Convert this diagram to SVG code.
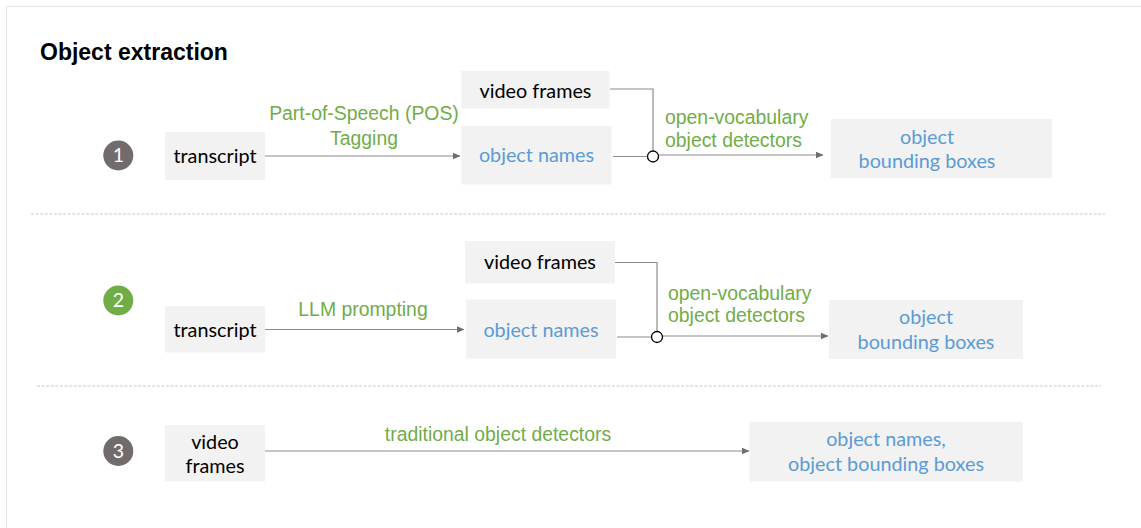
<svg xmlns="http://www.w3.org/2000/svg" width="1141" height="528" viewBox="0 0 1141 528">
<style>
  .frame{fill:none;stroke:#e6e6e6;stroke-width:1}
  .sep{fill:none;stroke:#dcdcdc;stroke-width:1.5;stroke-dasharray:3 1.6}
  .box{fill:#f2f2f2}
  .tb{font-family:Lato,"Open Sans",sans-serif;font-size:19.8px;fill:#000;text-anchor:middle}
  .tbl{font-family:Lato,"Open Sans",sans-serif;font-size:19.8px;fill:#5b9bd5;text-anchor:middle}
  .lab{font-family:"Liberation Sans",Arial,sans-serif;font-size:19.4px;fill:#70ad47}
  .num{font-family:Lato,"Open Sans",sans-serif;font-size:19.5px;fill:#fff;text-anchor:middle}
  .con{fill:none;stroke:#8c8c8c;stroke-width:1.2}
  .jn{fill:#fff;stroke:#000;stroke-width:1.3}
</style>
<defs>
  <marker id="ah" markerWidth="8" markerHeight="7" refX="7.5" refY="3.5" orient="auto" markerUnits="userSpaceOnUse">
    <path d="M0,0 L8,3.5 L0,7 Z" fill="#6e6e6e"/>
  </marker>
</defs>
<rect width="1141" height="528" fill="#fff"/>
<path class="frame" d="M6.5,528 V6.5 H1141"/>
<line class="sep" x1="31" y1="214" x2="1105" y2="214"/>
<line class="sep" x1="37" y1="386" x2="1101" y2="386"/>
<text x="40" y="60" font-family="'Liberation Sans',Arial,sans-serif" font-size="23" font-weight="bold" fill="#000">Object extraction</text>

<g id="connectors">
  <line class="con" x1="265" y1="156" x2="460" y2="156" marker-end="url(#ah)"/>
  <polyline class="con" points="610,89 653,89 653,150.5"/>
  <line class="con" x1="613" y1="156.5" x2="647.5" y2="156.5"/>
  <line class="con" x1="659" y1="155" x2="823" y2="155" marker-end="url(#ah)"/>
  <circle class="jn" cx="653" cy="156.5" r="5.5"/>

  <line class="con" x1="265" y1="329.5" x2="464" y2="329.5" marker-end="url(#ah)"/>
  <polyline class="con" points="613,262.5 657,262.5 657,331"/>
  <line class="con" x1="617" y1="337" x2="651.5" y2="337"/>
  <line class="con" x1="662.5" y1="336" x2="828" y2="336" marker-end="url(#ah)"/>
  <circle class="jn" cx="657" cy="337" r="5.5"/>

  <line class="con" x1="265" y1="451" x2="749" y2="451" marker-end="url(#ah)"/>
</g>

<g id="labels">
  <text class="lab" x="364" y="120" text-anchor="middle">Part-of-Speech (POS)</text>
  <text class="lab" x="364" y="144.5" text-anchor="middle">Tagging</text>
  <text class="lab" x="665" y="124">open-vocabulary</text>
  <text class="lab" x="665" y="146.5">object detectors</text>
  <text class="lab" x="363" y="316" text-anchor="middle">LLM prompting</text>
  <text class="lab" x="668" y="299.5">open-vocabulary</text>
  <text class="lab" x="668" y="322">object detectors</text>
  <text class="lab" x="498" y="441" text-anchor="middle">traditional object detectors</text>
</g>

<g id="n1"><circle cx="118.3" cy="155.5" r="15" fill="#716b6b"/><text class="num" x="118.3" y="162">1</text></g>
<g id="n2"><circle cx="118.3" cy="300.5" r="15" fill="#70ad47"/><text class="num" x="118.3" y="307">2</text></g>
<g id="n3"><circle cx="118.3" cy="451" r="15" fill="#716b6b"/><text class="num" x="118.3" y="457.5">3</text></g>

<g id="r1-transcript"><rect class="box" x="165" y="132" width="100" height="48"/><text class="tb" x="215" y="162.5">transcript</text></g>
<g id="r1-video"><rect class="box" x="461.5" y="71" width="148" height="37.5"/><text class="tb" x="535.5" y="97.5">video frames</text></g>
<g id="r1-names"><rect class="box" x="461.5" y="126" width="150" height="58.5"/><text class="tbl" x="536.5" y="162">object names</text></g>
<g id="r1-boxes"><rect class="box" x="831" y="119" width="221" height="59"/><text class="tbl" x="927" y="143.5">object</text><text class="tbl" x="927" y="168">bounding boxes</text></g>

<g id="r2-transcript"><rect class="box" x="165" y="306" width="100" height="46.5"/><text class="tb" x="215" y="336.5">transcript</text></g>
<g id="r2-video"><rect class="box" x="465" y="241" width="150" height="42.5"/><text class="tb" x="540" y="268.5">video frames</text></g>
<g id="r2-names"><rect class="box" x="466" y="299.5" width="150" height="59"/><text class="tbl" x="541" y="336.5">object names</text></g>
<g id="r2-boxes"><rect class="box" x="829" y="300" width="194" height="59"/><text class="tbl" x="926" y="324">object</text><text class="tbl" x="926" y="349">bounding boxes</text></g>

<g id="r3-video"><rect class="box" x="165" y="425" width="100" height="56.5"/><text class="tb" x="215" y="448.5">video</text><text class="tb" x="215" y="473">frames</text></g>
<g id="r3-out"><rect class="box" x="749.5" y="422" width="273.5" height="59.5"/><text class="tbl" x="886" y="446">object names,</text><text class="tbl" x="886" y="471">object bounding boxes</text></g>
</svg>
